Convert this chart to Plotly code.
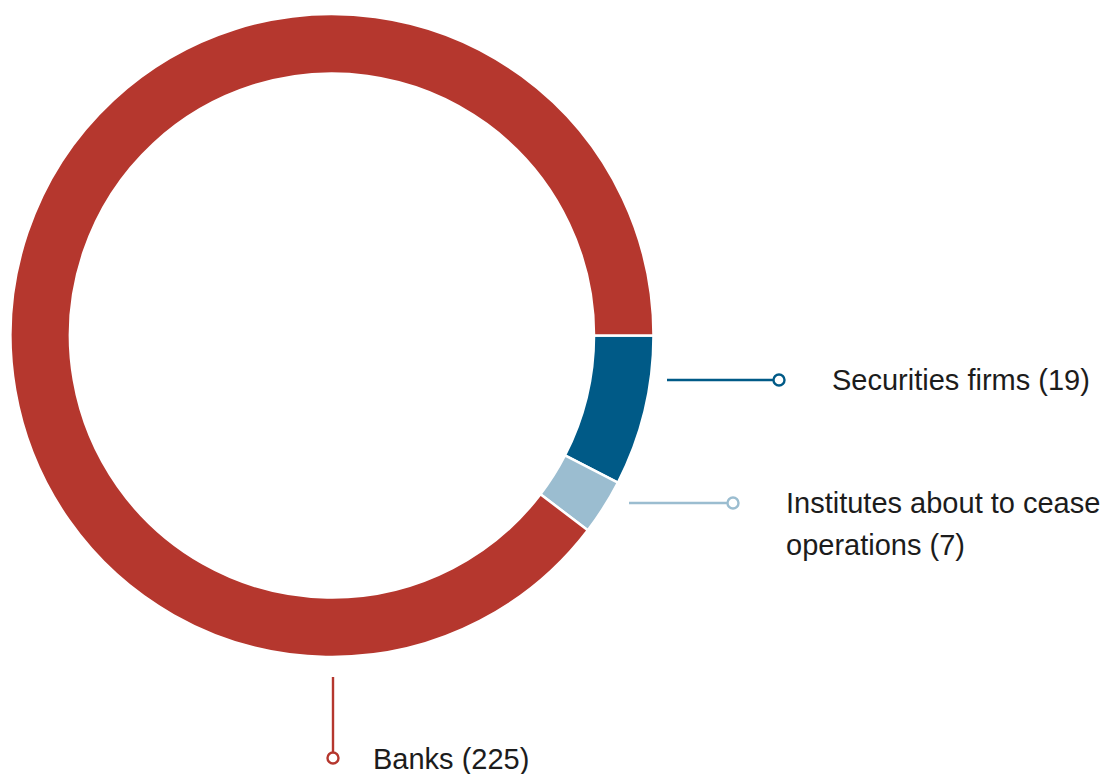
import plotly.graph_objects as go

# Institutions by category
categories = ["Securities firms", "Institutes about to cease operations", "Banks"]
counts = [19, 7, 225]
colors = ["#005A87", "#9BBDD0", "#B5372E"]

W, H = 1115, 774
TEXT = "#1c1c1c"
FONT = "Liberation Sans, Arial, Helvetica, sans-serif"

fig = go.Figure()

# Donut ring
cx, cy, R = 332, 335.5, 321.5
fig.add_trace(go.Pie(
    labels=categories,
    values=counts,
    sort=False,
    direction="clockwise",
    rotation=90,
    hole=0.815,
    marker=dict(colors=colors, line=dict(color="white", width=2.5)),
    textinfo="none",
    hoverinfo="label+value",
    showlegend=False,
    domain=dict(x=[(cx - R) / W, (cx + R) / W], y=[1 - (cy + R) / H, 1 - (cy - R) / H]),
))

# Leader lines (pixel-space overlay) ending in open circles
leaders = [
    dict(x=[667, 779], y=[380, 380], color=colors[0]),
    dict(x=[629, 733], y=[503, 503], color=colors[1]),
    dict(x=[333, 333], y=[677, 758], color=colors[2]),
]
for ld in leaders:
    fig.add_trace(go.Scatter(
        x=ld["x"], y=ld["y"], mode="lines", line=dict(color=ld["color"], width=2.4),
        hoverinfo="skip", showlegend=False,
    ))
    fig.add_trace(go.Scatter(
        x=[ld["x"][1]], y=[ld["y"][1]], mode="markers",
        marker=dict(symbol="circle", size=11, color="white", line=dict(color=ld["color"], width=2.4)),
        hoverinfo="skip", showlegend=False,
    ))

# Labels
labels = [
    (830, 380, f"Securities firms ({counts[0]})"),
    (784, 503, "Institutes about to cease"),
    (784, 545, f"operations ({counts[1]})"),
    (371, 759, f"Banks ({counts[2]})"),
]
for x, y, t in labels:
    fig.add_annotation(
        x=x, y=y, xref="x", yref="y", text=t, showarrow=False,
        xanchor="left", yanchor="middle",
        font=dict(family=FONT, size=29, color=TEXT),
    )

fig.update_layout(
    width=W, height=H,
    margin=dict(l=0, r=0, t=0, b=0),
    paper_bgcolor="white", plot_bgcolor="rgba(0,0,0,0)",
    xaxis=dict(range=[0, W], visible=False, fixedrange=True),
    yaxis=dict(range=[H, 0], visible=False, fixedrange=True),
)

fig.write_html("out.html")
